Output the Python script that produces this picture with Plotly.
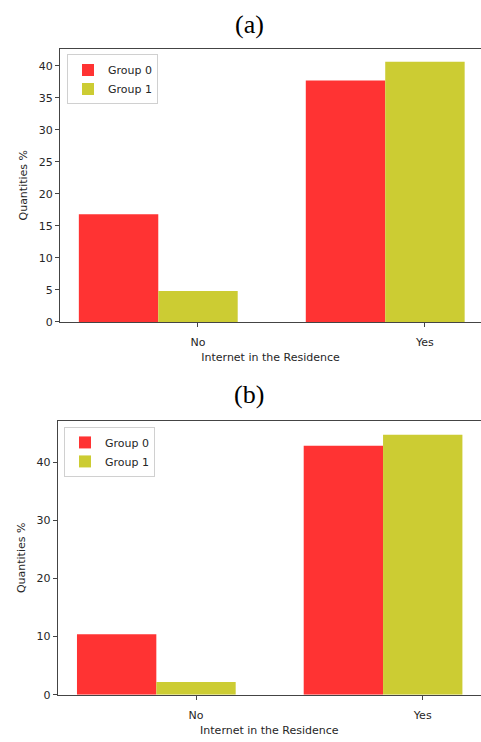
import plotly.graph_objects as go

categories = ["No", "Yes"]
positions = [0, 1]
a_group0 = [16.8, 37.7]
a_group1 = [4.85, 40.65]
b_group0 = [10.4, 42.9]
b_group1 = [2.2, 44.8]
series_names = ["Group 0", "Group 1"]
a_yticks = [0, 5, 10, 15, 20, 25, 30, 35, 40]
b_yticks = [0, 10, 20, 30, 40]

RED = "rgb(255,51,51)"
YEL = "rgb(204,204,51)"
W = 481
H = 742
FONT = "DejaVu Sans"
TXT = "#262626"

fig = go.Figure()
width = 0.35
# tick sits at the centre of the Group 1 bar
off0 = -1.5 * width
off1 = -0.5 * width
fig.add_trace(go.Bar(x=positions, y=a_group0, name=series_names[0], marker_color=RED,
                     width=width, offset=off0, xaxis="x", yaxis="y", legend="legend",
                     marker_line_width=0))
fig.add_trace(go.Bar(x=positions, y=a_group1, name=series_names[1], marker_color=YEL,
                     width=width, offset=off1, xaxis="x", yaxis="y", legend="legend",
                     marker_line_width=0))
fig.add_trace(go.Bar(x=positions, y=b_group0, name=series_names[0], marker_color=RED,
                     width=width, offset=off0, xaxis="x2", yaxis="y2", legend="legend2",
                     marker_line_width=0))
fig.add_trace(go.Bar(x=positions, y=b_group1, name=series_names[1], marker_color=YEL,
                     width=width, offset=off1, xaxis="x2", yaxis="y2", legend="legend2",
                     marker_line_width=0))

def px_x(p):
    return p / W

def px_y(p):
    return 1 - p / H

axis_common = dict(showgrid=False, zeroline=False, showline=True, linecolor="#444",
                   linewidth=1, ticks="outside", ticklen=4, tickcolor="#444",
                   tickfont=dict(family=FONT, size=11, color=TXT),
                   title_font=dict(family=FONT, size=11, color=TXT))

fig.update_layout(
    width=W, height=H,
    margin=dict(l=0, r=0, t=0, b=0),
    paper_bgcolor="white", plot_bgcolor="white",
    barmode="overlay",
    xaxis=dict(domain=[px_x(60), 1], range=[-0.608, 1.247], anchor="y",
               tickvals=positions, ticktext=categories, mirror=True, ticklabelstandoff=6,
               title=dict(text="Internet in the Residence", standoff=5), **axis_common),
    yaxis=dict(domain=[px_y(325), px_y(49)], range=[0, 42.7], anchor="x",
               tickvals=a_yticks, title=dict(text="Quantities %", standoff=8), **axis_common),
    xaxis2=dict(domain=[px_x(57.7), 1], range=[-0.61, 1.257], anchor="y2",
                tickvals=positions, ticktext=categories, mirror=True, ticklabelstandoff=6,
                title=dict(text="Internet in the Residence", standoff=5), **axis_common),
    yaxis2=dict(domain=[px_y(701.3), px_y(425)], range=[0, 47.15], anchor="x2",
                tickvals=b_yticks, title=dict(text="Quantities %", standoff=8), **axis_common),
    legend=dict(x=px_x(67), y=px_y(55), xanchor="left", yanchor="top",
                bgcolor="white", bordercolor="#d0d0d0", borderwidth=1,
                font=dict(family=FONT, size=11, color=TXT), itemwidth=30, tracegroupgap=0),
    legend2=dict(x=px_x(64), y=px_y(431), xanchor="left", yanchor="top",
                 bgcolor="white", bordercolor="#d0d0d0", borderwidth=1,
                 font=dict(family=FONT, size=11, color=TXT), itemwidth=30, tracegroupgap=0),
    annotations=[
        dict(text="(a)", x=px_x(249), y=px_y(25), xref="paper", yref="paper",
             xanchor="center", yanchor="middle", showarrow=False,
             font=dict(family="Liberation Serif", size=26, color="black")),
        dict(text="(b)", x=px_x(249), y=px_y(398), xref="paper", yref="paper",
             xanchor="center", yanchor="middle", showarrow=False,
             font=dict(family="Liberation Serif", size=26, color="black")),
    ],
)

fig.write_html("out.html", config={"displayModeBar": False},
               post_script="document.body.style.margin='0';document.body.style.overflow='hidden';")
